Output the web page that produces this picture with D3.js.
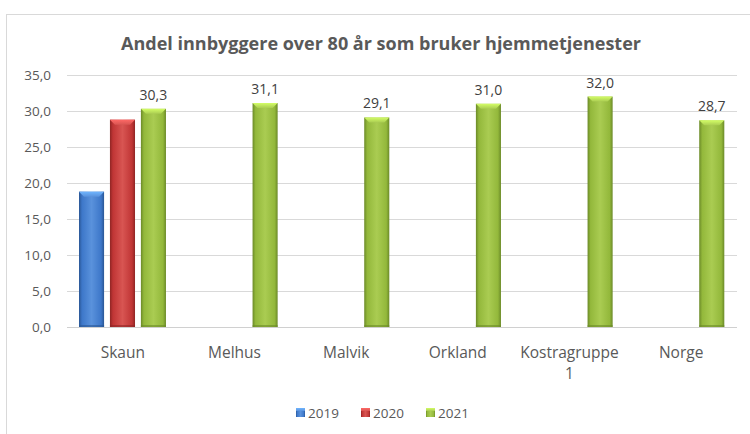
<!DOCTYPE html>
<html><head><meta charset="utf-8">
<script src="https://cdn.jsdelivr.net/npm/d3@7"></script>
<style>
html,body{margin:0;padding:0;background:#fff;}
svg{display:block;font-family:"Open Sans","Liberation Sans",sans-serif;}
</style></head>
<body><svg id="c" width="750" height="434"></svg>
<script>
const title = "Andel innbyggere over 80 år som bruker hjemmetjenester";
const categories = ["Skaun","Melhus","Malvik","Orkland","Kostragruppe 1","Norge"];
const series = ["2019","2020","2021"];
const v2019 = [18.8, null, null, null, null, null];
const v2020 = [28.8, null, null, null, null, null];
const v2021 = [30.3, 31.1, 29.1, 31.0, 32.0, 28.7];
const yTicks = [0,5,10,15,20,25,30,35];
const colors = {
  "2019": ["#2a5694","#3d77c9","#5a92dc"],
  "2020": ["#8f2524","#c03535","#d85552"],
  "2021": ["#6b8a28","#93b83b","#aacc52"]
};

(function(){
const svg = d3.select("#c");
const pL = 67, pR = 737, pT = 75, pB = 327;

svg.append("rect").attr("x",6.5).attr("y",14.5).attr("width",760).attr("height",440)
  .attr("fill","#fff").attr("stroke","#d9d9d9").attr("stroke-width",1);

const defs = svg.append("defs");
series.forEach(s=>{
  const c = colors[s];
  const g = defs.append("linearGradient").attr("id","g"+s).attr("x1","0").attr("x2","1").attr("y1","0").attr("y2","0");
  [[0,c[0]],[0.12,c[1]],[0.5,c[2]],[0.88,c[1]],[1,c[0]]].forEach(([o,col])=>
    g.append("stop").attr("offset",o).attr("stop-color",col));
  const t = defs.append("linearGradient").attr("id","t"+s).attr("x1","0").attr("x2","0").attr("y1","0").attr("y2","1");
  t.append("stop").attr("offset",0).attr("stop-color",d3.color(c[2]).brighter(0.6));
  t.append("stop").attr("offset",1).attr("stop-color",c[2]);
});

const y = d3.scaleLinear().domain([0,35]).range([pB, pT]);
const x0 = d3.scaleBand().domain(categories).range([pL,pR]).padding(0);
const x1 = d3.scaleBand().domain(series).range([12, x0.bandwidth()-12.7]).paddingInner(0.19);

svg.append("g").selectAll("line").data(yTicks).join("line")
  .attr("x1",pL).attr("x2",pR)
  .attr("y1",d=>y(d)+0.5).attr("y2",d=>y(d)+0.5)
  .attr("stroke","#d9d9d9").attr("stroke-width",1);

svg.append("g").selectAll("text").data(yTicks).join("text")
  .attr("x",51).attr("y",d=>y(d)+5)
  .attr("text-anchor","end").attr("font-size",13.5).attr("fill","#595959")
  .text(d=>d.toFixed(1).replace(".",","));

const data = [];
const vals = {"2019":v2019,"2020":v2020,"2021":v2021};
categories.forEach((c,i)=>series.forEach(s=>{
  if (vals[s][i]!=null) data.push({c,s,v:vals[s][i]});
}));
const bars = svg.append("g").selectAll("g").data(data).join("g");
bars.append("rect")
  .attr("x",d=>x0(d.c)+x1(d.s)).attr("y",d=>y(d.v))
  .attr("width",x1.bandwidth()).attr("height",d=>y(0)-y(d.v))
  .attr("fill",d=>"url(#g"+d.s+")");
bars.append("path").attr("d",d=>{
  const xa = x0(d.c)+x1(d.s), w = x1.bandwidth(), ya = y(d.v), b = 5;
  return `M${xa},${ya}L${xa+w},${ya}L${xa+w-b},${ya+b}L${xa+b},${ya+b}Z`;
}).attr("fill",d=>"url(#t"+d.s+")");
bars.append("rect")
  .attr("x",d=>x0(d.c)+x1(d.s)).attr("y",y(0)-2)
  .attr("width",x1.bandwidth()).attr("height",2)
  .attr("fill",d=>colors[d.s][0]).attr("opacity",0.6);

svg.append("line").attr("x1",pL).attr("x2",pR).attr("y1",pB+0.5).attr("y2",pB+0.5)
  .attr("stroke","#d0d0d0").attr("stroke-width",1.2);

svg.append("g").selectAll("text").data(data.filter(d=>d.s==="2021")).join("text")
  .attr("x",d=>x0(d.c)+x1(d.s)+x1.bandwidth()/2).attr("y",d=>y(d.v)-9)
  .attr("text-anchor","middle").attr("font-size",14).attr("fill","#404040")
  .text(d=>d.v.toFixed(1).replace(".",","));

const cl = svg.append("g").selectAll("text").data(categories).join("text")
  .attr("x",d=>x0(d)+x0.bandwidth()/2).attr("y",358)
  .attr("text-anchor","middle").attr("font-size",15.5).attr("fill","#595959");
cl.each(function(d){
  const parts = d==="Kostragruppe 1" ? ["Kostragruppe","1"] : [d];
  const t = d3.select(this);
  parts.forEach((p,i)=>t.append("tspan").attr("x",x0(d)+x0.bandwidth()/2).attr("dy",i?21:0).text(p));
});

svg.append("text").attr("x",381).attr("y",50).attr("text-anchor","middle")
  .attr("font-size",18).attr("font-weight","bold").attr("fill","#595959").text(title);

const legX = [296, 361, 426];
const lg = svg.append("g").selectAll("g").data(series).join("g")
  .attr("transform",(d,i)=>`translate(${legX[i]},408)`);
lg.append("rect").attr("width",9).attr("height",9).attr("fill",d=>"url(#g"+d+")");
lg.append("rect").attr("width",9).attr("height",3).attr("fill",d=>"url(#t"+d+")");
lg.append("text").attr("x",12).attr("y",10).attr("font-size",13.5).attr("fill","#595959").text(d=>d);
})();
</script></body></html>
